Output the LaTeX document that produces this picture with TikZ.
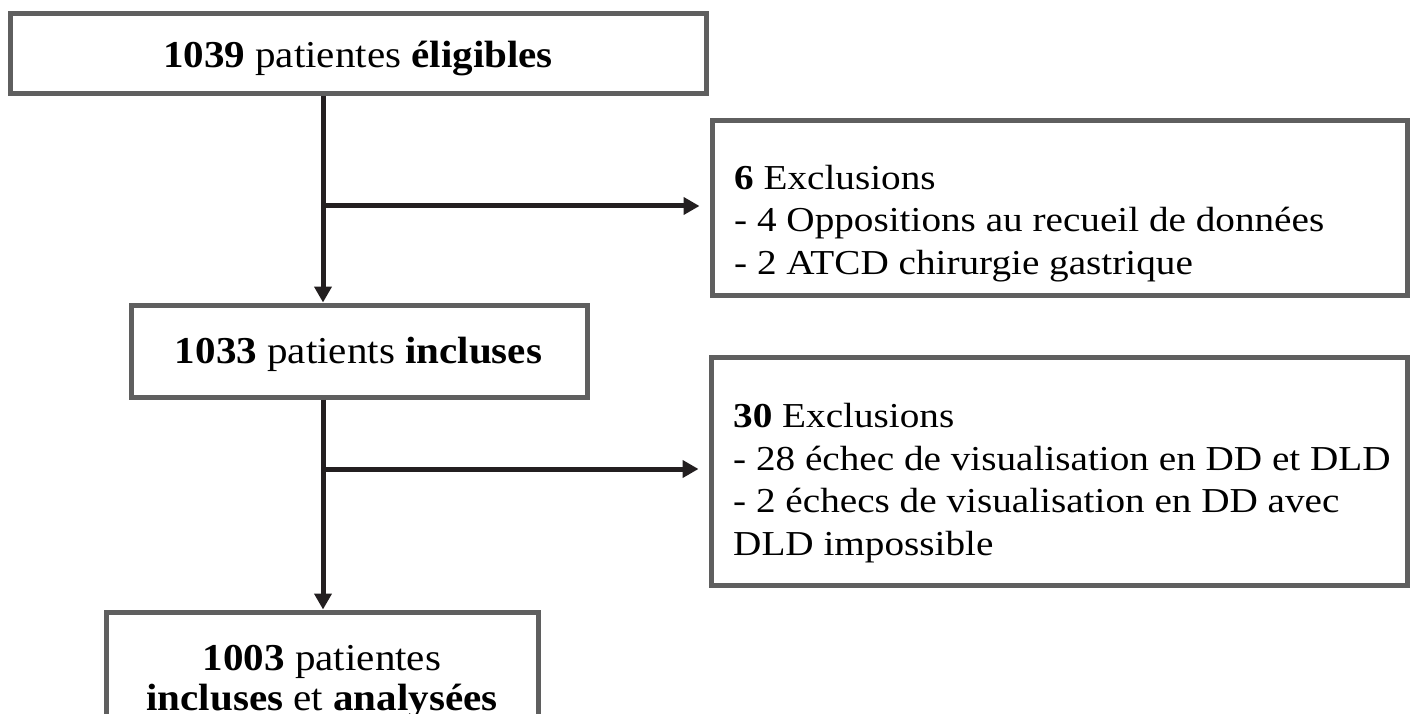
\documentclass[tikz,border=0pt]{standalone}
\usepackage{fontspec}
\setmainfont{Liberation Serif}
\newfontfamily\mainf{Liberation Serif}[FakeStretch=1.08]
\newfontfamily\exf{Liberation Serif}[FakeStretch=1.12]
\usetikzlibrary{arrows.meta}
\definecolor{boxgray}{HTML}{5F5F5F}
\definecolor{conncol}{HTML}{231F20}
\begin{document}
\begin{tikzpicture}[x=1pt,y=-1pt,
  box/.style={draw=boxgray, line width=5pt, fill=white, rectangle, inner sep=0pt},
  conn/.style={draw=conncol, line width=5pt, -{Triangle[length=16pt,width=17pt]}},
  branch/.style={conn, shorten >=10pt},
  maintext/.style={font=\mainf\fontsize{38}{40}\selectfont, inner sep=0pt, align=center, anchor=base},
  extext/.style={font=\exf\fontsize{35}{42.5}\selectfont, inner sep=0pt, align=left, anchor=base west}]
\useasboundingbox (0,0) rectangle (1416,714);
\clip (0,0) rectangle (1416,714);
% boxes
\node[box, minimum width=696pt, minimum height=80pt]  (b1) at (358,54) {};
\node[box, minimum width=695pt, minimum height=174pt] (e1) at (1059.5,208) {};
\node[box, minimum width=456pt, minimum height=92pt]  (b2) at (359,351) {};
\node[box, minimum width=696pt, minimum height=228pt] (e2) at (1059,471) {};
\node[box, minimum width=432pt, minimum height=150pt] (b3) at (322,687) {};
% texts (multi-line nodes: base anchor lies below the last line)
\node[maintext] (t1) at (358,68) {\textbf{1039} patientes \textbf{éligibles}};
\node[maintext] (t2) at (358.5,363) {\textbf{1033} patients \textbf{incluses}};
\node[maintext] (t3) at (322,710) {\textbf{1003} patientes\\\textbf{incluses} et \textbf{analysées}};
\node[extext] (x1) at (734,274) {\textbf{6} Exclusions\\- 4 Oppositions au recueil de données\\- 2 ATCD chirurgie gastrique};
\node[extext] (x2) at (733,555) {\textbf{30} Exclusions\\- 28 échec de visualisation en DD et DLD\\- 2 échecs de visualisation en DD avec\\DLD impossible};
% connectors
\coordinate (sp) at (323,0);
\coordinate (j1) at (323,206);
\coordinate (j2) at (323,469);
\draw[conn] (b1.south -| sp) -- (b2.north -| sp);
\draw[branch] (j1) -- (j1 -| e1.west);
\draw[conn] (b2.south -| sp) -- (b3.north -| sp);
\draw[branch] (j2) -- (j2 -| e2.west);
\end{tikzpicture}
\end{document}
